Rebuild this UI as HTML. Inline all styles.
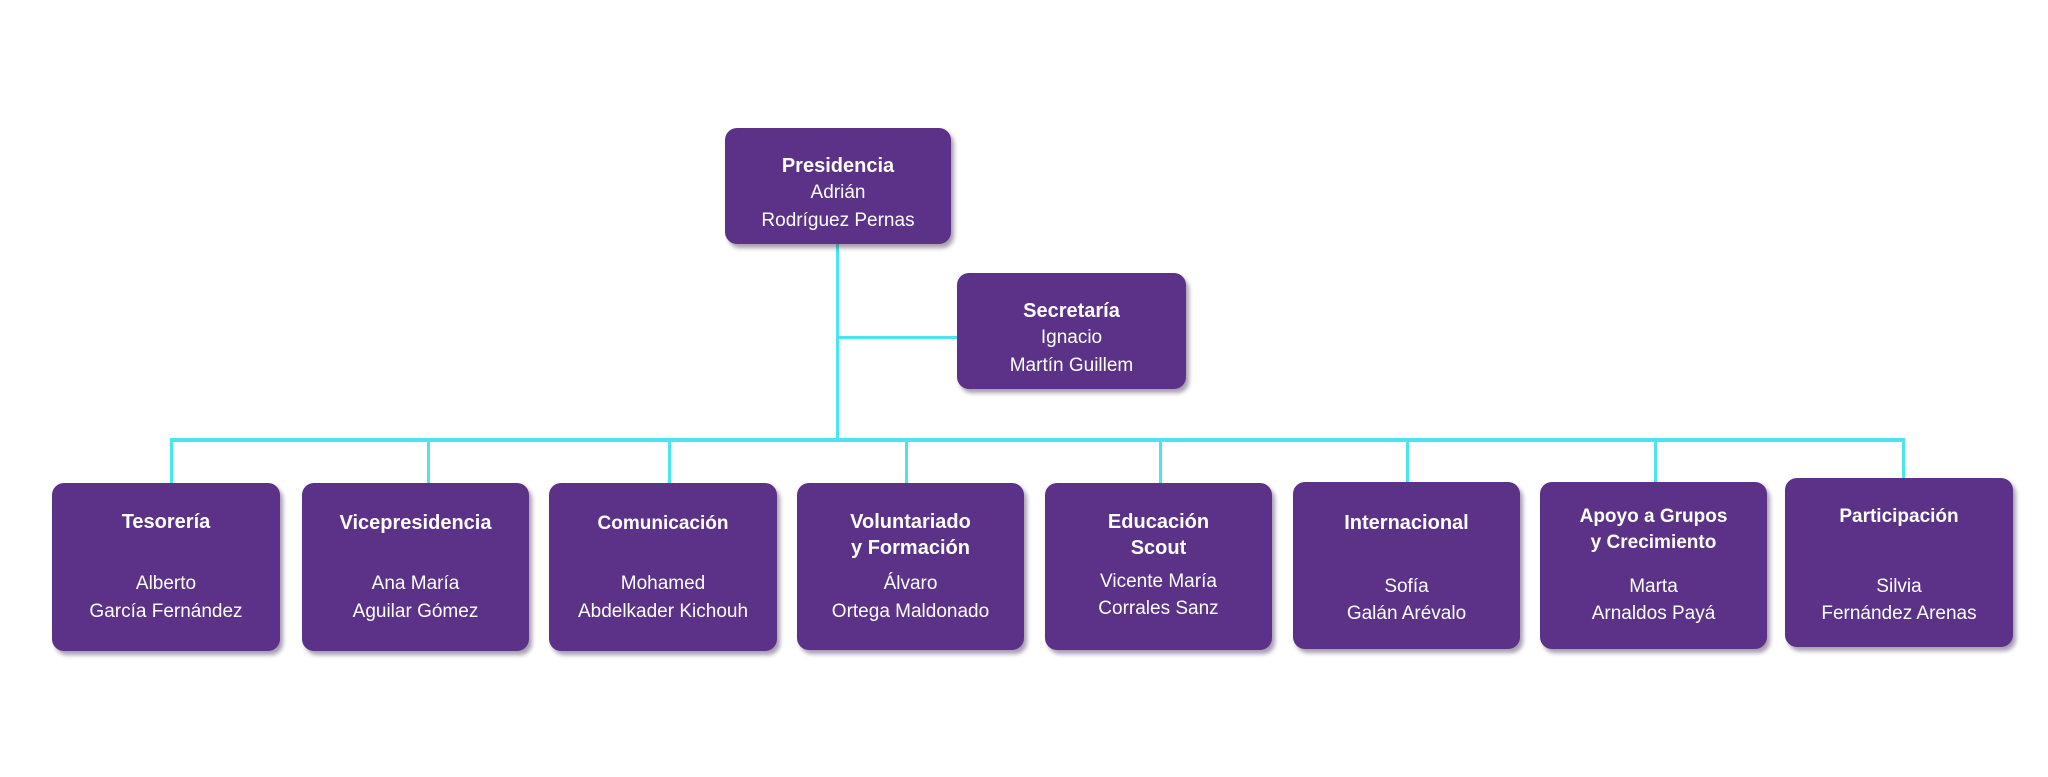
<!DOCTYPE html>
<html><head><meta charset="utf-8"><style>
body{margin:0;width:2048px;height:777px;background:#fff;position:relative;overflow:hidden;font-family:"Liberation Sans",sans-serif;}
.b{position:absolute;background:#5b3287;border-radius:12px;box-shadow:3px 4px 4px rgba(60,40,80,0.45);color:#fff;}
.t{position:absolute;left:0;right:0;text-align:center;white-space:nowrap;line-height:26px;}
.h{font-weight:bold;font-size:20px;}
.n{font-size:19px;}
.l{position:absolute;background:#4ce4ee;}
</style></head><body>
<div class="l" style="left:836px;top:244px;width:3px;height:197px"></div>
<div class="l" style="left:836px;top:336px;width:122px;height:3px"></div>
<div class="l" style="left:170px;top:438px;width:1735px;height:4px"></div>
<div class="l" style="left:170px;top:440px;width:3px;height:44px"></div>
<div class="l" style="left:427px;top:440px;width:3px;height:44px"></div>
<div class="l" style="left:668px;top:440px;width:3px;height:44px"></div>
<div class="l" style="left:905px;top:440px;width:3px;height:44px"></div>
<div class="l" style="left:1159px;top:440px;width:3px;height:44px"></div>
<div class="l" style="left:1406px;top:440px;width:3px;height:44px"></div>
<div class="l" style="left:1654px;top:440px;width:3px;height:44px"></div>
<div class="l" style="left:1902px;top:440px;width:3px;height:40px"></div>

<div class="b" style="left:725px;top:128px;width:226px;height:116px">
<div class="t h" style="top:25px">Presidencia</div>
<div class="t n" style="top:52px">Adrián</div>
<div class="t n" style="top:80px">Rodríguez Pernas</div></div>

<div class="b" style="left:957px;top:273px;width:229px;height:116px">
<div class="t h" style="top:25px">Secretaría</div>
<div class="t n" style="top:52px">Ignacio</div>
<div class="t n" style="top:80px">Martín Guillem</div></div>

<div class="b" style="left:52px;top:483px;width:228px;height:168px">
<div class="t h" style="top:26px">Tesorería</div>
<div class="t n" style="top:88px">Alberto</div>
<div class="t n" style="top:116px">García Fernández</div></div>

<div class="b" style="left:302px;top:483px;width:227px;height:168px">
<div class="t h" style="top:27px">Vicepresidencia</div>
<div class="t n" style="top:88px">Ana María</div>
<div class="t n" style="top:116px">Aguilar Gómez</div></div>

<div class="b" style="left:549px;top:483px;width:228px;height:168px">
<div class="t h" style="top:28px;font-size:19px">Comunicación</div>
<div class="t n" style="top:88px">Mohamed</div>
<div class="t n" style="top:116px">Abdelkader Kichouh</div></div>

<div class="b" style="left:797px;top:483px;width:227px;height:167px">
<div class="t h" style="top:26px">Voluntariado<br>y Formación</div>
<div class="t n" style="top:88px">Álvaro</div>
<div class="t n" style="top:116px">Ortega Maldonado</div></div>

<div class="b" style="left:1045px;top:483px;width:227px;height:167px">
<div class="t h" style="top:26px">Educación<br>Scout</div>
<div class="t n" style="top:86px">Vicente María</div>
<div class="t n" style="top:113px">Corrales Sanz</div></div>

<div class="b" style="left:1293px;top:482px;width:227px;height:167px">
<div class="t h" style="top:28px">Internacional</div>
<div class="t n" style="top:92px">Sofía</div>
<div class="t n" style="top:119px">Galán Arévalo</div></div>

<div class="b" style="left:1540px;top:482px;width:227px;height:167px">
<div class="t h" style="top:22px;font-size:19px">Apoyo a Grupos<br>y Crecimiento</div>
<div class="t n" style="top:92px">Marta</div>
<div class="t n" style="top:119px">Arnaldos Payá</div></div>

<div class="b" style="left:1785px;top:478px;width:228px;height:169px">
<div class="t h" style="top:26px;font-size:19px">Participación</div>
<div class="t n" style="top:96px">Silvia</div>
<div class="t n" style="top:123px">Fernández Arenas</div></div>
</body></html>
